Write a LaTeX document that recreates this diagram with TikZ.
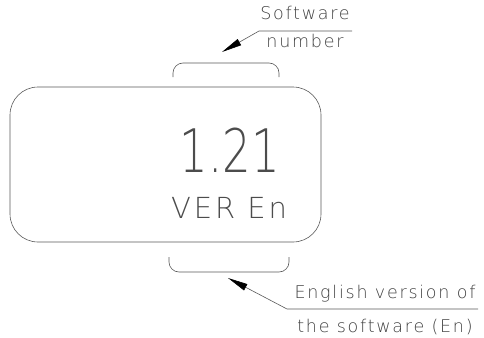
\documentclass[tikz,border=0pt]{standalone}
\usepackage{fontspec}
\newfontfamily\cadfont{DejaVu Sans ExtraLight}[LetterSpace=10]
\newfontfamily\cadbig{DejaVu Sans ExtraLight}[FakeStretch=0.75]
\usetikzlibrary{arrows.meta}
\begin{document}
\begin{tikzpicture}[x = 1pt, y = -1pt,
    line/.style = {draw = black!65, line width = 0.6pt},
    lead/.style = {line, -{Triangle[length = 20pt, width = 7pt, color = black]}},
    label/.style = {text = black!75, inner sep = 0pt, anchor = base, font = \cadfont\fontsize{17.5}{19}\selectfont}]
        \useasboundingbox (0, 0) rectangle (484, 337);

        \draw [line, rounded corners = 28pt] (10, 87) rectangle (321, 242);
        \node [text = black!70, inner sep = 0pt, anchor = base, font = \cadbig\fontsize{60}{60}\selectfont] (V) at (230, 172) {1.21};
        \node [text = black!70, inner sep = 0pt, anchor = base, font = \cadfont\fontsize{29}{30}\selectfont] (L) at (229, 218) {VER En};

        \draw [line, rounded corners = 10pt] (173, 77) -- (173, 63) -- (279, 63) -- (279, 77);
        \draw [line, rounded corners = 10pt] (169, 257) -- (169, 272) -- (289, 272) -- (289, 257);

        \node [label] (S) at (305, 20) {Software};
        \node [label] (N) at (305, 48) {number};
        \node [label] (E) at (385, 298) {English version of};
        \node [label] (T) at (385, 332) {the software (En)};

        \coordinate (A) at (222, 52);
        \coordinate (B) at (259, 31);
        \coordinate (C) at (352, 31);
        \coordinate (D) at (228, 278);
        \coordinate (F) at (287, 309);
        \coordinate (G) at (478, 309);
        \draw [lead] (C) -- (B) -- (A);
        \draw [lead] (G) -- (F) -- (D);

\end{tikzpicture}
\end{document}
